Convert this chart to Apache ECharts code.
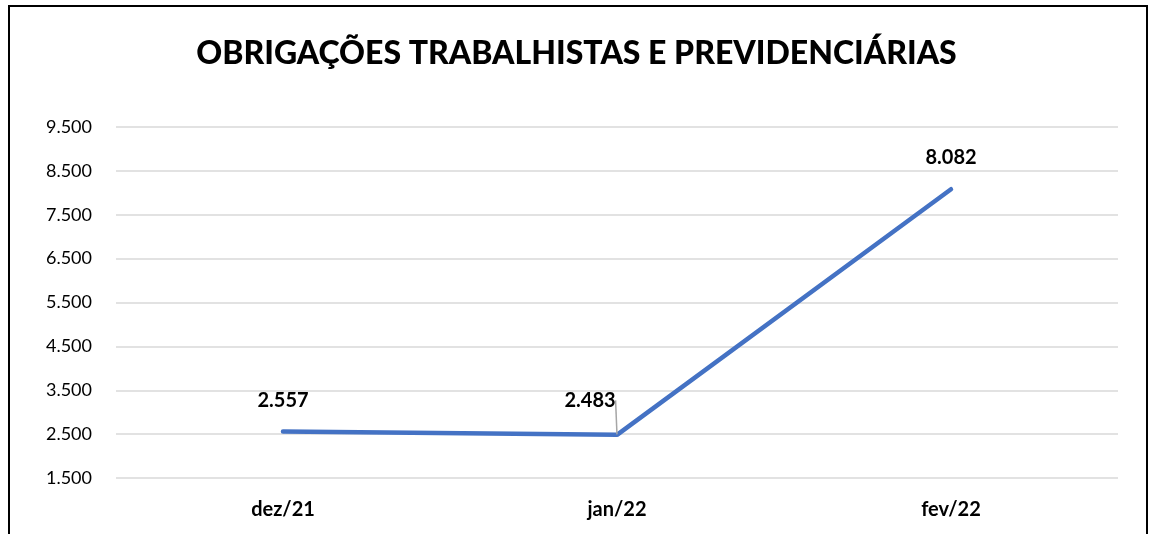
<!DOCTYPE html>
<html>
<head>
<meta charset="utf-8">
<script src="https://cdn.jsdelivr.net/npm/echarts@6/dist/echarts.min.js"></script>
<style>
  html, body { margin: 0; padding: 0; background: #fff; overflow: hidden; }
  #frame { position: absolute; left: 8px; top: 5px; width: 1136px; height: 600px; border: 2px solid #000; }
  #main { position: absolute; left: 0; top: 0; width: 1153px; height: 534px; }
</style>
</head>
<body>
<div id="frame"></div>
<div id="main"></div>
<script>
// chart data
const categories = ['dez/21', 'jan/22', 'fev/22']
const values = [2557, 2483, 8082]
const yTicks = [1500, 2500, 3500, 4500, 5500, 6500, 7500, 8500, 9500]

const fmt = v => v.toLocaleString('pt-BR')
const font = 'Lato, "Open Sans", sans-serif'

// only the jan/22 label is pulled aside, with a leader line
const seriesData = values.map((v, i) => i === 1
  ? { value: v, label: { width: 4 }, labelLine: { show: true } }
  : v)

const chart = echarts.init(document.getElementById('main'))
chart.setOption({
  animation: false,
  title: {
    text: 'OBRIGAÇÕES TRABALHISTAS E PREVIDENCIÁRIAS',
    left: 'center',
    top: 33,
    textStyle: { fontFamily: font, fontSize: 32, fontWeight: 900, color: '#000' }
  },
  grid: { left: 116, right: 35, top: 127, bottom: 56 },
  xAxis: {
    type: 'category',
    data: categories,
    boundaryGap: true,
    axisLine: { show: false },
    axisTick: { show: false },
    axisLabel: { margin: 22, fontFamily: font, fontSize: 20, fontWeight: 'bold', color: '#000' }
  },
  yAxis: {
    type: 'value',
    min: yTicks[0],
    max: yTicks[yTicks.length - 1],
    interval: 1000,
    axisLine: { show: false },
    axisTick: { show: false },
    splitLine: { lineStyle: { color: '#d9d9d9', width: 1.5 } },
    axisLabel: { margin: 24, fontFamily: font, fontSize: 18, color: '#000', formatter: fmt }
  },
  series: [{
    type: 'line',
    data: seriesData,
    symbol: 'circle',
    symbolSize: 1,
    showSymbol: true,
    itemStyle: { color: 'rgba(0,0,0,0)' },
    lineStyle: { color: '#4472C4', width: 4.5, cap: 'round' },
    label: {
      show: true,
      position: 'top',
      distance: 21,
      fontFamily: font,
      fontSize: 20,
      fontWeight: 'bold',
      color: '#000',
      formatter: p => fmt(p.value)
    },
    labelLine: { show: false, lineStyle: { color: '#a6a6a6', width: 1.5 } },
    labelLayout: p => (p.dataIndex === 1 ? { dx: -27, dy: -3 } : {})
  }]
})
</script>
</body>
</html>
